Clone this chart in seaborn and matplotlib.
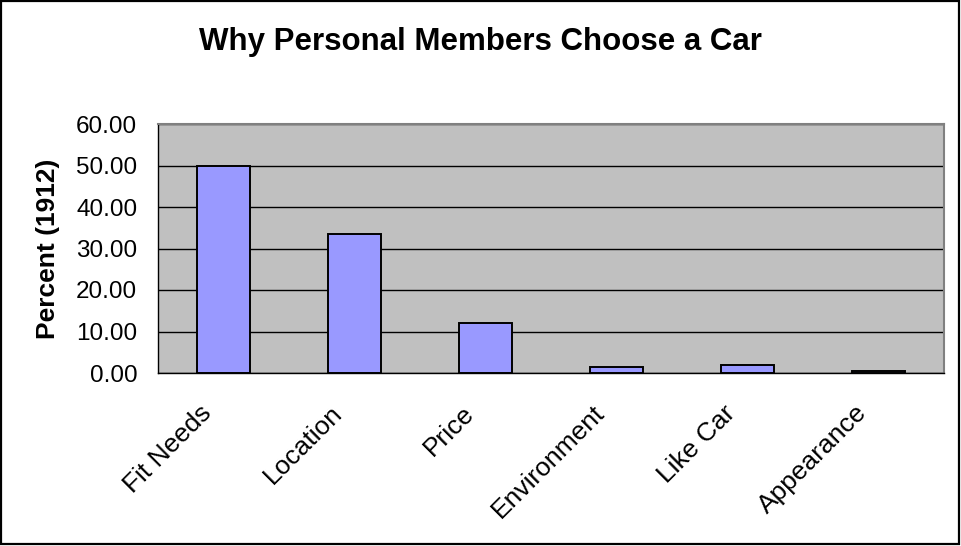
import matplotlib
matplotlib.use("Agg")
import matplotlib.pyplot as plt
from matplotlib.patches import Rectangle
from matplotlib.ticker import FixedLocator, FormatStrFormatter
from matplotlib.transforms import ScaledTranslation
import numpy as np
import pandas as pd
import seaborn as sns

# Reasons for choosing a car, percent of respondents
reasons = ["Fit Needs", "Location", "Price", "Environment", "Like Car", "Appearance"]
percent = [50.0, 33.6, 12.0, 1.45, 1.9, 0.4]
y_ticks = [0, 10, 20, 30, 40, 50, 60]

title = "Why Personal Members Choose a Car"
y_label = "Percent (1912)"

sns.set_style("white")
plt.rcParams["font.family"] = ["Liberation Sans", "DejaVu Sans"]
for key in ("text.color", "axes.labelcolor", "xtick.color", "ytick.color"):
    plt.rcParams[key] = "black"

df = pd.DataFrame({"reason": reasons, "percent": percent})

W, H = 961, 546
fig = plt.figure(figsize=(W / 100, H / 100), dpi=100)
ax = fig.add_axes([158 / W, (H - 373) / H, (944 - 158) / W, (373 - 124) / H])

sns.barplot(data=df, x="reason", y="percent", ax=ax, color="#9999FF",
            saturation=1, width=0.41, edgecolor="black", linewidth=1.4, zorder=3)

ax.set_facecolor("#C0C0C0")
ax.set_xlim(-0.5, len(reasons) - 0.5)
ax.set_ylim(y_ticks[0], y_ticks[-1])
ax.set_yticks(y_ticks)
ax.yaxis.set_major_formatter(FormatStrFormatter("%.2f"))
ax.grid(axis="y", color="black", linewidth=1.0, zorder=1)
ax.set_axisbelow(True)

# category labels on centers, tick marks on category boundaries
ax.set_xticks(range(len(reasons)))
ax.xaxis.set_minor_locator(FixedLocator(np.arange(-0.5, len(reasons), 1.0)))
ax.tick_params(axis="x", which="major", length=0, pad=20, labelsize=19)
ax.tick_params(axis="x", which="minor", length=4.5, width=0.9, color="black", direction="out")
ax.tick_params(axis="y", length=5, width=0.9, color="black", direction="out", labelsize=17.5, pad=10)
ax.set_xticklabels(reasons, rotation=45, ha="right", va="top", rotation_mode="anchor")
shift = ScaledTranslation(-24 / 100, 0, fig.dpi_scale_trans)
for lab in ax.get_xticklabels():
    lab.set_transform(lab.get_transform() + shift)
ax.set_xlabel("")
ax.set_ylabel(y_label, fontsize=19, fontweight="bold")
ax.yaxis.set_label_coords((60 - 158) / (944 - 158), 0.5)

for side in ("top", "right"):
    ax.spines[side].set_color("#808080")
    ax.spines[side].set_linewidth(1.5)
for side in ("left", "bottom"):
    ax.spines[side].set_color("black")
    ax.spines[side].set_linewidth(1.0)
    ax.spines[side].set_visible(True)

fig.text(480.5 / W, 1 - 42 / H, title, ha="center", va="center",
         fontsize=22.5, fontweight="bold")

# outer chart frame
fig.patches.append(Rectangle((0.001, 0.004), 0.997, 0.994, transform=fig.transFigure,
                             fill=False, edgecolor="black", linewidth=1.6))

fig.savefig("out.png", dpi=100)
